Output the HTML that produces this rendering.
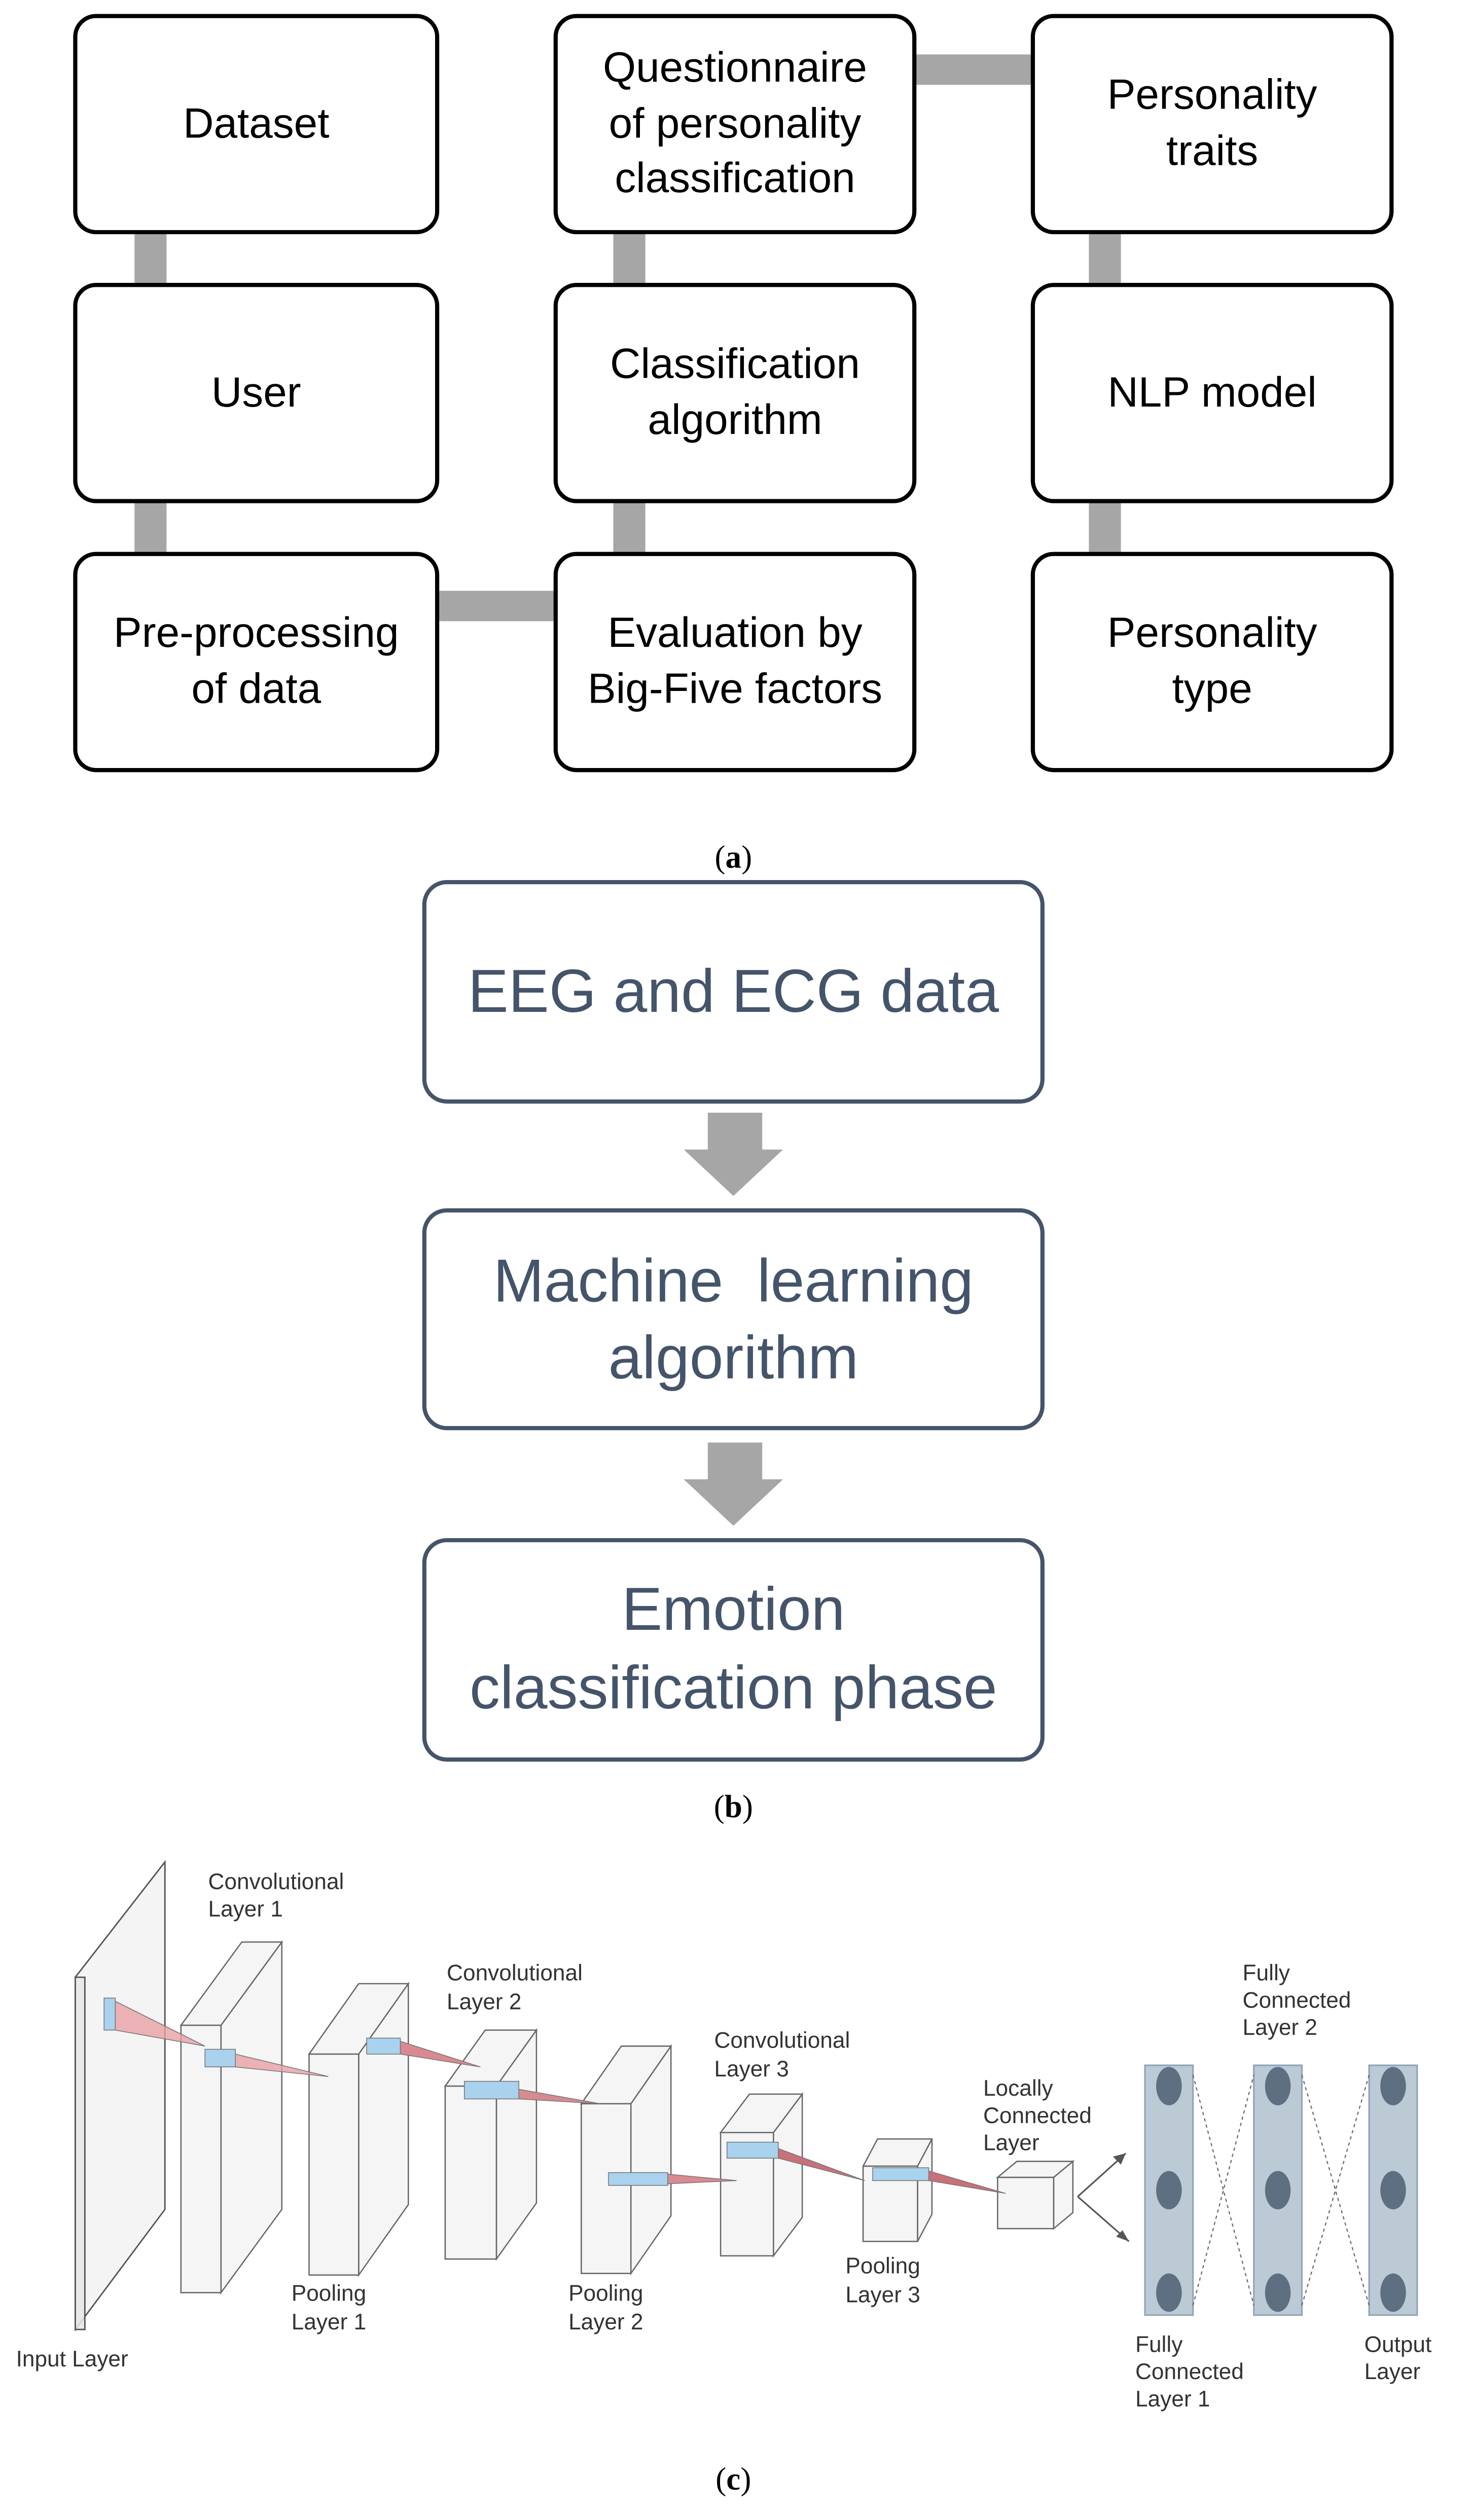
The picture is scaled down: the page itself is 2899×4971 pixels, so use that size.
<!DOCTYPE html>
<html><head><meta charset="utf-8"><style>html,body{margin:0;padding:0;background:#fff}svg{display:block}</style></head>
<body>
<svg xmlns="http://www.w3.org/2000/svg" width="2899" height="4971" viewBox="0 0 918 1574" preserveAspectRatio="none">
<rect width="918" height="1574" fill="#fff"/>
<g fill="#a6a6a6">
<rect x="84" y="145" width="20" height="33"/>
<rect x="84" y="313" width="20" height="33"/>
<rect x="383" y="145" width="20" height="33"/>
<rect x="383" y="313" width="20" height="33"/>
<rect x="680" y="145" width="20" height="33"/>
<rect x="680" y="313" width="20" height="33"/>
<rect x="571" y="34" width="74" height="19"/>
<rect x="273" y="369" width="74" height="19"/>
</g>
<g fill="#fff" stroke="#000" stroke-width="2.6">
<rect x="47" y="10" width="226" height="135" rx="13"/>
<rect x="347" y="10" width="224" height="135" rx="13"/>
<rect x="645" y="10" width="224" height="135" rx="13"/>
<rect x="47" y="178" width="226" height="135" rx="13"/>
<rect x="347" y="178" width="224" height="135" rx="13"/>
<rect x="645" y="178" width="224" height="135" rx="13"/>
<rect x="47" y="346" width="226" height="135" rx="13"/>
<rect x="347" y="346" width="224" height="135" rx="13"/>
<rect x="645" y="346" width="224" height="135" rx="13"/>
</g>
<g font-family="Liberation Sans, sans-serif" font-size="26.5" text-anchor="middle" fill="#000">
<text x="160" y="86">Dataset</text>
<text x="459" y="51">Questionnaire</text>
<text x="459" y="86">of personality</text>
<text x="459" y="120">classification</text>
<text x="757" y="68">Personality</text>
<text x="757" y="103">traits</text>
<text x="160" y="254">User</text>
<text x="459" y="236">Classification</text>
<text x="459" y="271">algorithm</text>
<text x="757" y="254">NLP model</text>
<text x="160" y="404">Pre-processing</text>
<text x="160" y="439">of data</text>
<text x="459" y="404">Evaluation by</text>
<text x="459" y="439">Big-Five factors</text>
<text x="757" y="404">Personality</text>
<text x="757" y="439">type</text>
</g>
<g font-family="Liberation Serif, serif" font-size="20" text-anchor="middle" fill="#000">
<text x="458" y="542">(<tspan font-weight="bold">a</tspan>)</text>
<text x="458" y="1135">(<tspan font-weight="bold">b</tspan>)</text>
<text x="458" y="1555">(<tspan font-weight="bold">c</tspan>)</text>
</g>
<g fill="#a6a6a6">
<rect x="442" y="695" width="34" height="24"/>
<polygon points="427,718 489,718 458,747"/>
<rect x="442" y="901" width="34" height="24"/>
<polygon points="427,924 489,924 458,953"/>
</g>
<g fill="#fff" stroke="#44546a" stroke-width="2.6">
<rect x="265" y="551" width="386" height="137" rx="14"/>
<rect x="265" y="756" width="386" height="136" rx="14"/>
<rect x="265" y="962" width="386" height="137" rx="14"/>
</g>
<g font-family="Liberation Sans, sans-serif" font-size="38" text-anchor="middle" fill="#44546a">
<text x="458" y="632">EEG and ECG data</text>
<text x="458" y="813" xml:space="preserve">Machine  learning</text>
<text x="458" y="861">algorithm</text>
<text x="458" y="1018">Emotion</text>
<text x="458" y="1067">classification phase</text>
</g>
<g stroke="#555" stroke-width="0.9" fill="#f2f2f2" fill-opacity="0.85">
<polygon points="47,1235 103,1163 103,1380 47,1455"/>
<polygon points="47,1235 53,1235 53,1455 47,1455" fill="#e6e6e6"/>
</g>
<g stroke="#666" stroke-width="0.8" fill="#f3f3f3" fill-opacity="0.8">
<polygon points="138,1265 176,1213 176,1380 138,1432"/><polygon points="113,1265 151,1213 176,1213 138,1265"/><rect x="113" y="1265" width="25" height="167"/>
<polygon points="224,1283 255,1239 255,1377 224,1421"/><polygon points="193,1283 224,1239 255,1239 224,1283"/><rect x="193" y="1283" width="31" height="138"/>
<polygon points="310,1303 335,1268 335,1376 310,1411"/><polygon points="278,1303 303,1268 335,1268 310,1303"/><rect x="278" y="1303" width="32" height="108"/>
<polygon points="394,1314 419,1278 419,1384 394,1420"/><polygon points="363,1314 388,1278 419,1278 394,1314"/><rect x="363" y="1314" width="31" height="106"/>
<polygon points="483,1332 501,1308 501,1385 483,1409"/><polygon points="450,1332 468,1308 501,1308 483,1332"/><rect x="450" y="1332" width="33" height="77"/>
<polygon points="573,1353 582,1336 582,1383 573,1400"/><polygon points="539,1353 548,1336 582,1336 573,1353"/><rect x="539" y="1353" width="34" height="47"/>
<polygon points="658,1360 670,1350 670,1382 658,1392"/><polygon points="623,1360 635,1350 670,1350 658,1360"/><rect x="623" y="1360" width="35" height="32"/>
</g>
<g stroke="#777" stroke-width="0.5">
<polygon points="72,1250 128,1278 72,1268" fill="#e8a0a4" fill-opacity="0.8"/>
<rect x="65" y="1248" width="7" height="20" fill="#a9d2ee"/>
<polygon points="147,1283 205,1297 147,1291" fill="#e8a0a4" fill-opacity="0.8"/>
<rect x="128" y="1280" width="19" height="11" fill="#a9d2ee"/>
<polygon points="250,1275 300,1291 250,1283" fill="#d98a90"/>
<rect x="229" y="1273" width="21" height="10" fill="#a9d2ee"/>
<polygon points="324,1305 375,1314 324,1311" fill="#d98a90"/>
<rect x="290" y="1300" width="34" height="11" fill="#a9d2ee"/>
<polygon points="417,1358 460,1362 417,1364" fill="#d98a90"/>
<rect x="380" y="1357" width="37" height="8" fill="#a9d2ee"/>
<polygon points="486,1342 540,1362 486,1348" fill="#c9707a"/>
<rect x="454" y="1338" width="32" height="10" fill="#a9d2ee"/>
<polygon points="580,1356 628,1370 580,1362" fill="#c9707a"/>
<rect x="545" y="1354" width="35" height="8" fill="#a9d2ee"/>
</g>
<g stroke="#555" stroke-width="1" fill="none">
<path d="M673,1372 L703,1345"/><path d="M673,1372 L705,1400"/>
</g>
<polygon points="703,1345 695,1347 700,1352" fill="#555"/>
<polygon points="705,1400 697,1397 701,1393" fill="#555"/>
<g fill="#bccad6" stroke="#8fa5b8" stroke-width="1">
<rect x="715" y="1290" width="30" height="156"/>
<rect x="783" y="1290" width="30" height="156"/>
<rect x="855" y="1290" width="30" height="156"/>
</g>
<g stroke="#666" stroke-width="0.7" stroke-dasharray="2,2" fill="none">
<path d="M745,1296 L783,1440 M745,1440 L783,1296"/>
<path d="M813,1296 L855,1440 M813,1440 L855,1296"/>
</g>
<g fill="#5f6f82">
<ellipse cx="730" cy="1303" rx="8" ry="12"/><ellipse cx="730" cy="1368" rx="8" ry="12"/><ellipse cx="730" cy="1432" rx="8" ry="12"/>
<ellipse cx="798" cy="1303" rx="8" ry="12"/><ellipse cx="798" cy="1368" rx="8" ry="12"/><ellipse cx="798" cy="1432" rx="8" ry="12"/>
<ellipse cx="870" cy="1303" rx="8" ry="12"/><ellipse cx="870" cy="1368" rx="8" ry="12"/><ellipse cx="870" cy="1432" rx="8" ry="12"/>
</g>
<g font-family="Liberation Sans, sans-serif" font-size="14" fill="#333">
<text x="10" y="1478">Input Layer</text>
<text x="130" y="1180">Convolutional</text><text x="130" y="1197">Layer 1</text>
<text x="182" y="1437">Pooling</text><text x="182" y="1455">Layer 1</text>
<text x="279" y="1237">Convolutional</text><text x="279" y="1255">Layer 2</text>
<text x="355" y="1437">Pooling</text><text x="355" y="1455">Layer 2</text>
<text x="446" y="1279">Convolutional</text><text x="446" y="1297">Layer 3</text>
<text x="528" y="1420">Pooling</text><text x="528" y="1438">Layer 3</text>
<text x="614" y="1309">Locally</text><text x="614" y="1326">Connected</text><text x="614" y="1343">Layer</text>
<text x="776" y="1237">Fully</text><text x="776" y="1254">Connected</text><text x="776" y="1271">Layer 2</text>
<text x="709" y="1469">Fully</text><text x="709" y="1486">Connected</text><text x="709" y="1503">Layer 1</text>
<text x="852" y="1469">Output</text><text x="852" y="1486">Layer</text>
</g>
</svg>
</body></html>
